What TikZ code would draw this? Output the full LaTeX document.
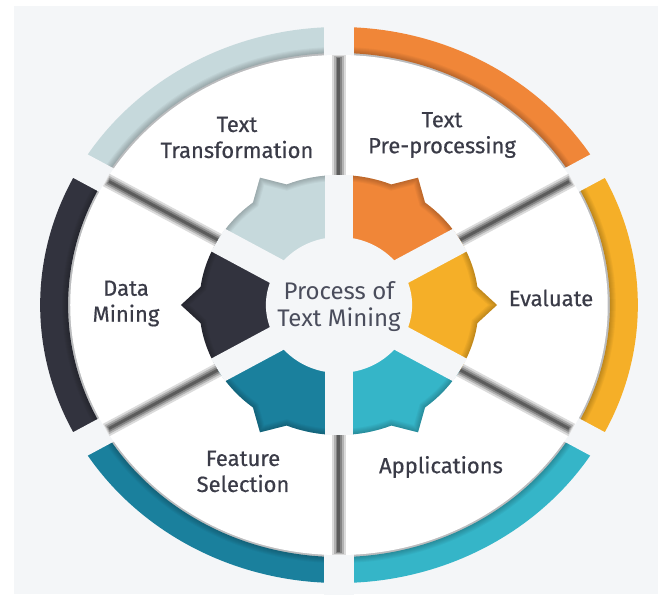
\documentclass[tikz,border=0pt]{standalone}
\usepackage{fontspec}
\setmainfont{Fira Sans}[BoldFont={Fira Sans}, BoldFeatures={FakeBold=0.5}]
\definecolor{bgc}{HTML}{F4F6F8}
\definecolor{clight}{HTML}{C6D9DC}
\definecolor{corange}{HTML}{F08638}
\definecolor{cyellow}{HTML}{F5AF28}
\definecolor{cdark}{HTML}{32333E}
\definecolor{cteal}{HTML}{1A809D}
\definecolor{ccyan}{HTML}{35B5C8}
\definecolor{ctext}{HTML}{3A3B47}
\definecolor{cctr}{HTML}{4A4D5C}
\newcommand\gearpiece[1]{(#1-30:60) -- (#1-30:130) arc[start angle=#1-30, end angle=#1-8, radius=130]
      -- (#1:147) -- (#1+8:130) arc[start angle=#1+8, end angle=#1+30, radius=130]
      -- (#1+30:60) -- cycle}
\newcommand\gearouter[1]{(#1-34:130) arc[start angle=#1-34, end angle=#1-8, radius=130]
      -- (#1:147) -- (#1+8:130) arc[start angle=#1+8, end angle=#1+34, radius=130]}
\begin{document}
\begin{tikzpicture}[x=1pt,y=1pt,
  lbl/.style={font=\fontsize{22}{26}\selectfont\bfseries, text=ctext, align=center, inner sep=0pt},
  ctrlbl/.style={font=\fontsize{24}{26.5}\selectfont, text=cctr, align=center, inner sep=0pt}]
\useasboundingbox (-339,-293) rectangle (326,305);
\fill[white] (-339,-293) rectangle (326,305);
\fill[bgc] (-325,-289) rectangle (319,299);
\begin{scope}[xscale=1.075]
  % outer ring
  \foreach \a/\c in {0/cyellow,60/corange,120/clight,180/cdark,240/cteal,300/ccyan}{
    \fill[\c] (\a-30:278) arc[start angle=\a-30, end angle=\a+30, radius=278]
      -- (\a+30:252) arc[start angle=\a+30, end angle=\a-30, radius=252] -- cycle;
  }
  % ring inner shadow
  \foreach \k in {1,...,7}{
    \draw[black, opacity=0.035, line width=2*\k] (0,0) circle[radius=251];
  }
  % ring gaps
  \foreach \b in {30,90,...,330}{
    \fill[bgc, rotate=\b] (240,-13.5) rectangle (290,13.5);
  }
  % cards
  \fill[white] (0,0) circle[radius=250];
  % card gaps with shadow
  \foreach \b in {30,90,...,330}{
    \draw[line width=14, black!14] (\b:125) -- (\b:250);
    \draw[line width=10, black!30] (\b:125) -- (\b:249);
    \draw[line width=6.5, black!48] (\b:125) -- (\b:248);
    \draw[line width=3, black!64] (\b:125) -- (\b:247);
  }
  % gear pieces
  \foreach \a/\c in {0/cyellow,60/corange,120/clight,180/cdark,240/cteal,300/ccyan}{
    \fill[\c] \gearpiece{\a};
    \begin{scope}
      \clip \gearpiece{\a};
      \foreach \k in {1,...,6}{
        \draw[black, opacity=0.035, line width=2*\k] \gearouter{\a};
      }
    \end{scope}
  }
  % gear gaps and centre
  \foreach \b in {30,90,...,330}{
    \fill[bgc, rotate=\b] (0,-13) rectangle (130,13);
  }
  \fill[bgc] (0,0) circle[radius=68];
\end{scope}
\node[lbl] (tt) at (-102,167.5) {Text\\Transformation};
\node[lbl] (tp) at (103,170) {Text\\Pre-processing};
\node[lbl] (dm) at (-213,1.5) {Data\\Mining};
\node[lbl] (ev) at (212,7) {Evaluate};
\node[lbl] (fs) at (-96,-166.5) {Feature\\Selection};
\node[lbl] (ap) at (102,-162) {Applications};
\node[ctrlbl] (ctr) at (0,-1.5) {Process of\\Text Mining};
\end{tikzpicture}
\end{document}
